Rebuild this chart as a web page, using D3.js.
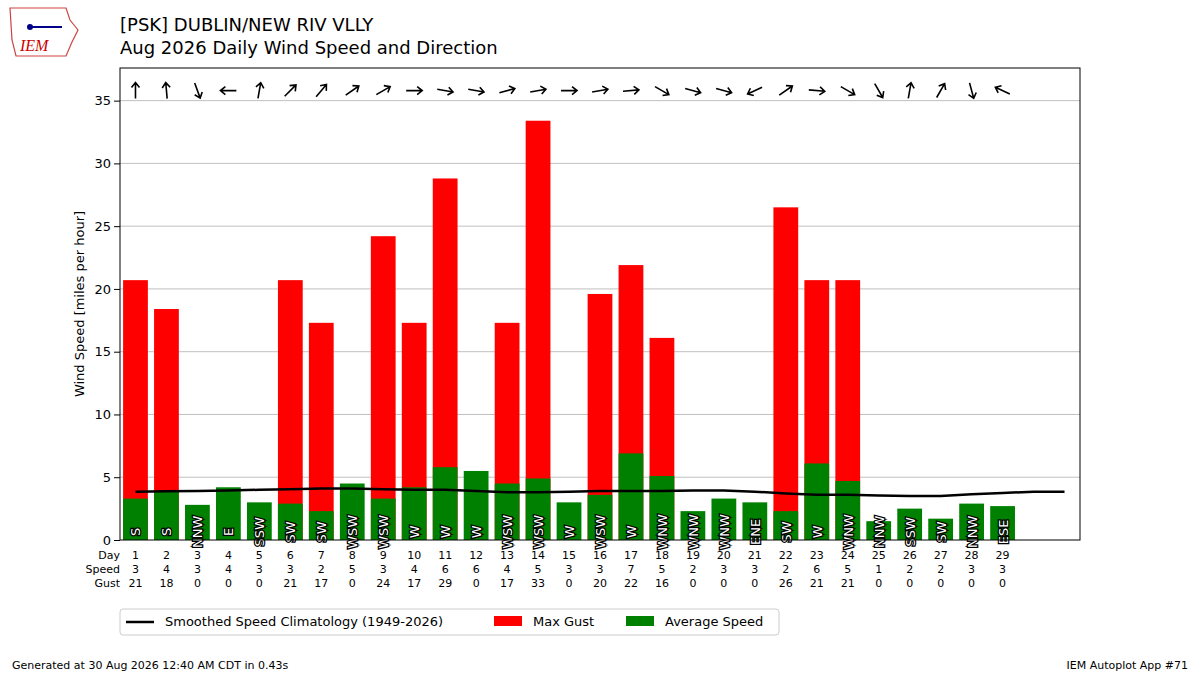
<!DOCTYPE html>
<html><head><meta charset="utf-8">
<script src="https://cdn.jsdelivr.net/npm/d3@7"></script>
<style>body{margin:0;background:#fff;font-family:"DejaVu Sans",sans-serif}</style>
</head><body>
<svg id="c" width="1200" height="675"></svg>
<script>
const days = d3.range(1, 30);
const avgSpeed = [3.3,3.9,2.8,4.2,3.0,2.9,2.3,4.5,3.3,4.2,5.8,5.5,4.5,4.9,3.0,3.6,6.9,5.1,2.3,3.3,3.0,2.3,6.1,4.7,1.5,2.5,1.7,2.9,2.7];
const maxGust = [20.7,18.4,0,0,0,20.7,17.3,0,24.2,17.3,28.8,0,17.3,33.4,0,19.6,21.9,16.1,0,0,0,26.5,20.7,20.7,0,0,0,0,0];
const speedLabels = [3,4,3,4,3,3,2,5,3,4,6,6,4,5,3,3,7,5,2,3,3,2,6,5,1,2,2,3,3];
const gustLabels = [21,18,0,0,0,21,17,0,24,17,29,0,17,33,0,20,22,16,0,0,0,26,21,21,0,0,0,0,0];
const dirLabels = ["S","S","NNW","E","SSW","SW","SW","WSW","WSW","W","W","W","WSW","WSW","W","WSW","W","WNW","WNW","WNW","ENE","SW","W","WNW","NNW","SSW","SW","NNW","ESE"];
const arrowDeg = [0,355,160,270,10,45,40,55,60,90,100,100,75,80,90,80,85,120,105,105,245,55,95,120,150,10,30,165,295];
const climoDays = d3.range(1, 32);
const climo = [3.85,3.88,3.9,3.95,4.0,4.05,4.1,4.1,4.05,4.0,4.0,3.9,3.8,3.8,3.85,3.9,3.9,3.9,3.95,3.95,3.85,3.7,3.6,3.6,3.55,3.5,3.5,3.65,3.75,3.85,3.85];

const svg = d3.select('#c');
const L = 120, R = 1080, T = 68, B = 540;
const x = d3.scaleLinear().domain([0.5, 31.5]).range([L, R]);
const y = d3.scaleLinear().domain([0, 37.6]).range([B, T]);
const bw = (x(1) - x(0)) * 0.8;

// grid
svg.append('g').selectAll('line').data(d3.range(5, 36, 5)).join('line')
  .attr('x1', L).attr('x2', R).attr('y1', d => y(d)).attr('y2', d => y(d))
  .attr('stroke', '#b0b0b0').attr('stroke-width', 0.8);

svg.append('g').selectAll('rect').data(days).join('rect')
  .attr('x', d => x(d) - bw/2).attr('width', bw)
  .attr('y', (d,i) => y(maxGust[i])).attr('height', (d,i) => B - y(maxGust[i]))
  .attr('fill', 'red');
svg.append('g').selectAll('rect').data(days).join('rect')
  .attr('x', d => x(d) - bw/2).attr('width', bw)
  .attr('y', (d,i) => y(avgSpeed[i])).attr('height', (d,i) => B - y(avgSpeed[i]))
  .attr('fill', 'green');

svg.append('path').datum(climoDays)
  .attr('d', d3.line().x(d => x(d)).y((d,i) => y(climo[i])))
  .attr('fill', 'none').attr('stroke', 'black').attr('stroke-width', 2.5);

// direction labels
svg.append('g').selectAll('text').data(days).join('text')
  .attr('transform', d => `translate(${x(d)+5},${y(0.65)}) rotate(-90)`)
  .attr('text-anchor', 'middle').attr('font-size', 13)
  .attr('fill', 'white').attr('stroke', 'black').attr('stroke-width', 2.5)
  .attr('paint-order', 'stroke')
  .text((d,i) => dirLabels[i]);

// arrows
const ag = svg.append('g').selectAll('g').data(days).join('g')
  .attr('transform', (d,i) => `translate(${x(d)},${y(35.8)}) rotate(${arrowDeg[i]})`);
ag.append('path').attr('d', 'M0,8 L0,-8 M-4,-3 L0,-8 L4,-3')
  .attr('fill', 'none').attr('stroke', 'black').attr('stroke-width', 1.6);

// axes
svg.append('g').attr('transform', `translate(${L},0)`)
  .call(d3.axisLeft(y).tickValues(d3.range(0, 36, 5)).tickSizeOuter(0))
  .call(g => g.selectAll('text').attr('font-size', 13).attr('font-family', 'DejaVu Sans').attr('fill', 'black'))
  .call(g => g.select('.domain').remove());
svg.append('rect').attr('x', L).attr('y', T).attr('width', R-L).attr('height', B-T)
  .attr('fill', 'none').attr('stroke', 'black').attr('stroke-width', 1);

// bottom table
const rows = [['Day', days], ['Speed', speedLabels], ['Gust', gustLabels]];
rows.forEach((r, k) => {
  const yy = 559 + k*14;
  svg.append('text').attr('x', 120).attr('y', yy).attr('text-anchor', 'end').attr('font-size', 11).text(r[0]);
  svg.append('g').selectAll('text').data(days).join('text')
    .attr('x', d => x(d)).attr('y', yy).attr('text-anchor', 'middle').attr('font-size', 11)
    .text((d,i) => r[1][i]);
});

svg.append('text').attr('transform', `translate(84,${(T+B)/2}) rotate(-90)`)
  .attr('text-anchor', 'middle').attr('font-size', 13).text('Wind Speed [miles per hour]');

svg.append('text').attr('x', 120).attr('y', 31).attr('font-size', 18).text('[PSK] DUBLIN/NEW RIV VLLY');
svg.append('text').attr('x', 120).attr('y', 54).attr('font-size', 18).text('Aug 2026 Daily Wind Speed and Direction');

// legend
const lg = svg.append('g');
lg.append('rect').attr('x', 120).attr('y', 609).attr('width', 659).attr('height', 26).attr('rx', 3)
  .attr('fill', 'white').attr('stroke', '#ccc');
lg.append('line').attr('x1', 126).attr('x2', 154).attr('y1', 622).attr('y2', 622).attr('stroke', 'black').attr('stroke-width', 2.5);
lg.append('text').attr('x', 165).attr('y', 626).attr('font-size', 13).text('Smoothed Speed Climatology (1949-2026)');
lg.append('rect').attr('x', 494).attr('y', 616).attr('width', 28).attr('height', 10).attr('fill', 'red');
lg.append('text').attr('x', 533).attr('y', 626).attr('font-size', 13).text('Max Gust');
lg.append('rect').attr('x', 626).attr('y', 616).attr('width', 28).attr('height', 10).attr('fill', 'green');
lg.append('text').attr('x', 665).attr('y', 626).attr('font-size', 13).text('Average Speed');

svg.append('text').attr('x', 12).attr('y', 669).attr('font-size', 11).text('Generated at 30 Aug 2026 12:40 AM CDT in 0.43s');
svg.append('text').attr('x', 1188).attr('y', 669).attr('text-anchor', 'end').attr('font-size', 11).text('IEM Autoplot App #71');

// logo
const lo = svg.append('g');
lo.append('path').attr('d', 'M10,8 L66,8 L70,20 L78,30 L72,42 L66,56 L16,56 L12,40 Z')
  .attr('fill', 'white').attr('stroke', '#c44').attr('stroke-width', 1.2);
lo.append('line').attr('x1', 28).attr('x2', 62).attr('y1', 27).attr('y2', 27).attr('stroke', '#00008b').attr('stroke-width', 2);
lo.append('circle').attr('cx', 30).attr('cy', 27).attr('r', 3).attr('fill', '#00008b');
lo.append('text').attr('x', 20).attr('y', 51).attr('font-size', 16).attr('font-style', 'italic')
  .attr('font-family', 'Liberation Serif').attr('fill', '#c00').text('IEM');
</script>
</body></html>
